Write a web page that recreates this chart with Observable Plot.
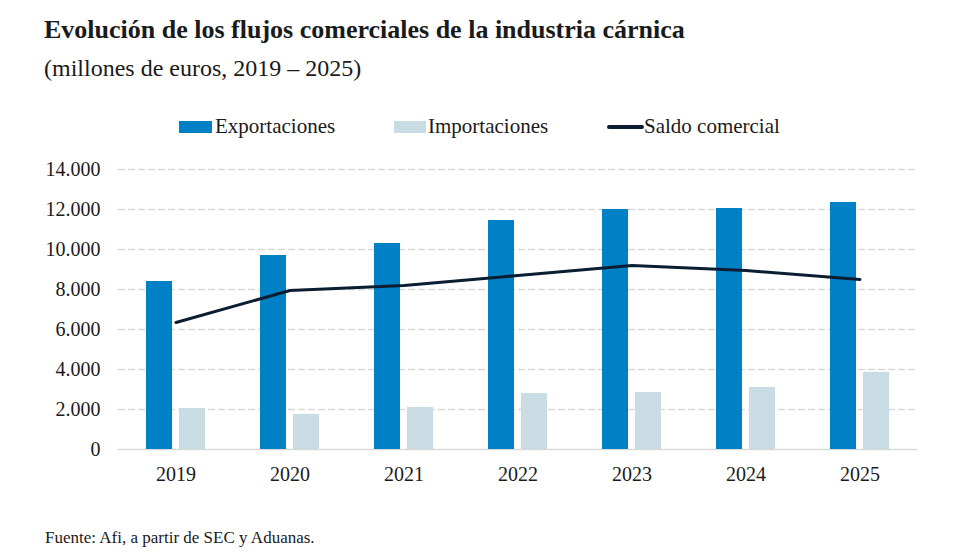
<!DOCTYPE html>
<html>
<head>
<meta charset="utf-8">
<script src="https://cdn.jsdelivr.net/npm/d3@7"></script>
<script src="https://cdn.jsdelivr.net/npm/@observablehq/plot@0.6"></script>
<style>
  html, body { margin: 0; padding: 0; background: #fff; }
  #page { position: relative; width: 980px; height: 560px; font-family: "Liberation Serif", serif; color: #1a1a1a; overflow: hidden; }
  .abs { position: absolute; white-space: nowrap; line-height: 1; }
  #title { left: 44px; top: 17px; font-size: 26px; font-weight: bold; }
  #subtitle { left: 44px; top: 56px; font-size: 24px; }
  #legend { left: 0; top: 0; }
  .sw { position: absolute; }
  .lt { position: absolute; font-size: 21px; line-height: 1; }
  #chart { position: absolute; left: 0; top: 150px; }
  #caption { left: 45px; top: 529px; font-size: 17px; }
</style>
</head>
<body>
<div id="page">
  <div id="title" class="abs">Evolución de los flujos comerciales de la industria cárnica</div>
  <div id="subtitle" class="abs">(millones de euros, 2019 – 2025)</div>
  <div id="legend" class="abs"></div>
  <div id="chart"></div>
  <div id="caption" class="abs">Fuente: Afi, a partir de SEC y Aduanas.</div>
</div>
<script>
// Trade flows of the meat industry, millions of euros
const years = ["2019", "2020", "2021", "2022", "2023", "2024", "2025"];
const exportaciones = [8400, 9700, 10300, 11450, 12000, 12050, 12350];
const importaciones = [2050, 1750, 2100, 2800, 2850, 3100, 3850];
const saldoComercial = [6350, 7950, 8200, 8700, 9200, 8950, 8500];
const yTicks = [0, 2000, 4000, 6000, 8000, 10000, 12000, 14000];

const seriesNames = ["Exportaciones", "Importaciones", "Saldo comercial"];
const colors = { exp: "#0081c6", imp: "#c9dbe3", saldo: "#0b1d31" };

const table = years.map((year, i) => ({
  year,
  exportaciones: exportaciones[i],
  importaciones: importaciones[i],
  saldo: saldoComercial[i]
}));

// Spanish number format: thousands separated by a period
const es = d3.formatLocale({ decimal: ",", thousands: ".", grouping: [3], currency: ["", " €"] });
const fmt = es.format(",.0f");

const chart = Plot.plot({
  width: 980,
  height: 340,
  marginLeft: 118,
  marginRight: 63,
  marginTop: 19,
  marginBottom: 41,
  style: { fontFamily: "Liberation Serif, serif", fontSize: "20px", color: "#1a1a1a", background: "transparent", overflow: "visible" },
  x: { type: "band", domain: years, paddingInner: 0.483, paddingOuter: 0.2415, label: null, tickSize: 0, tickPadding: 17 },
  y: { domain: [0, 14000], ticks: yTicks, tickFormat: fmt, label: null, tickSize: 0, tickPadding: 18 },
  marks: [
    Plot.ruleY(yTicks.filter(d => d > 0), { stroke: "#d9d9d9", strokeWidth: 1.3, strokeDasharray: "7,3" }),
    Plot.ruleY([0], { stroke: "#d9d9d9", strokeWidth: 1.3 }),
    Plot.barY(table, { x: "year", y: "exportaciones", fill: colors.exp, insetRight: 33 }),
    Plot.barY(table, { x: "year", y: "importaciones", fill: colors.imp, insetLeft: 33 }),
    Plot.lineY(table, { x: "year", y: "saldo", stroke: colors.saldo, strokeWidth: 3, strokeLinejoin: "round" })
  ]
});
document.getElementById("chart").appendChild(chart);

// Legend row above the plot
const legend = document.getElementById("legend");
const items = [
  { name: seriesNames[0], kind: "rect", color: colors.exp, x0: 179, x1: 212, tx: 215 },
  { name: seriesNames[1], kind: "rect", color: colors.imp, x0: 394, x1: 426, tx: 428 },
  { name: seriesNames[2], kind: "line", color: colors.saldo, x0: 607, x1: 644, tx: 644 }
];
for (const it of items) {
  const sw = document.createElement("div");
  sw.className = "sw";
  sw.style.left = it.x0 + "px";
  sw.style.width = (it.x1 - it.x0) + "px";
  sw.style.background = it.color;
  if (it.kind === "rect") { sw.style.top = "121px"; sw.style.height = "12px"; }
  else { sw.style.top = "125px"; sw.style.height = "4px"; sw.style.borderRadius = "2px"; }
  legend.appendChild(sw);
  const t = document.createElement("div");
  t.className = "lt";
  t.style.left = it.tx + "px";
  t.style.top = "116px";
  t.textContent = it.name;
  legend.appendChild(t);
}
</script>
</body>
</html>
